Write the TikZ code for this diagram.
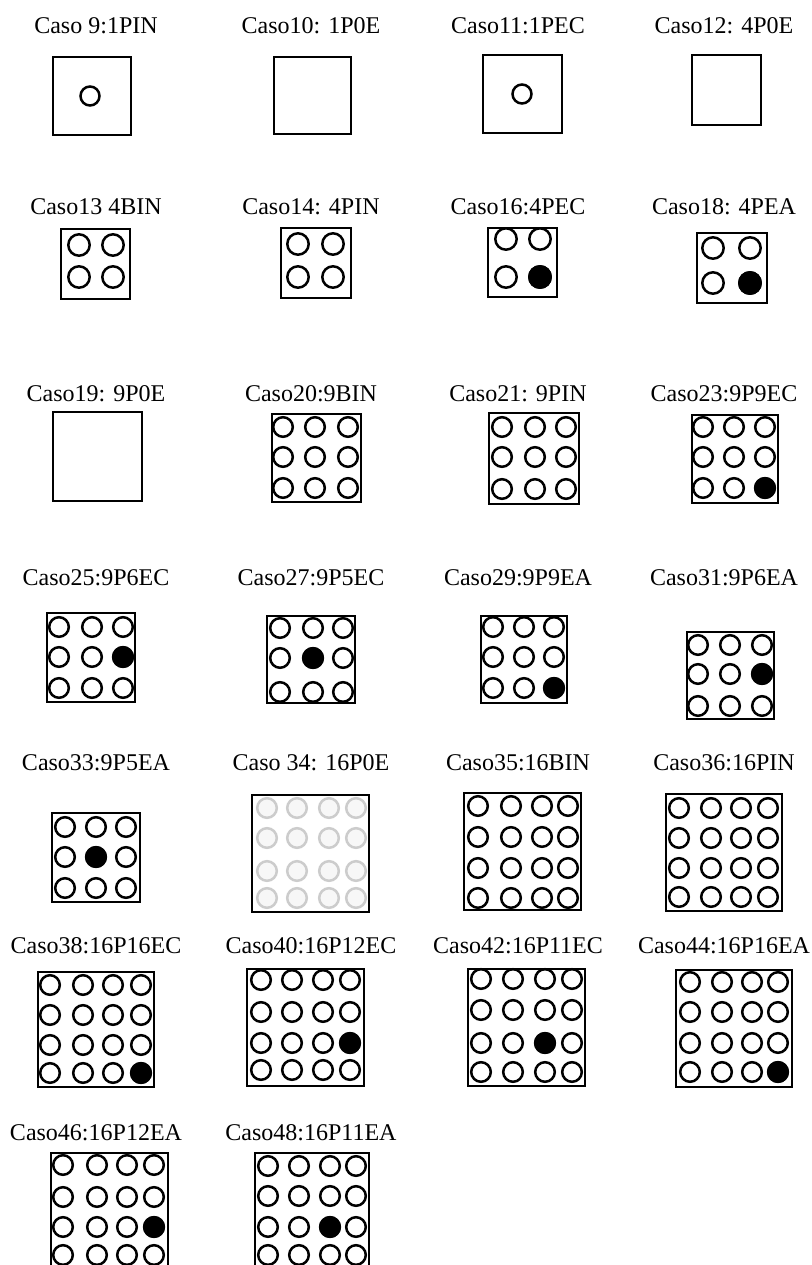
\documentclass[tikz,border=0pt]{standalone}
\usepackage{fontspec}
\setmainfont{Liberation Serif}
\usepackage{tikz}
\definecolor{ghostline}{gray}{0.80}
\definecolor{ghostfill}{gray}{0.97}
\tikzset{
  capt/.style={font=\fontsize{12}{14}\selectfont,anchor=base,inner sep=0pt},
  frame/.style={draw=black,line width=1.35pt},
  hole/.style={draw=black,line width=1.25pt,fill=white},
  pin/.style={draw=black,line width=1.25pt,fill=black},
  ghost/.style={draw=ghostline,line width=1.25pt,fill=ghostfill},
}
\begin{document}
\begin{tikzpicture}[x=0.5pt,y=0.5pt]
  \useasboundingbox[fill=white] (0,0) rectangle (811,-1265);
  \node[capt] (c9) at (96,-33.5) {Caso 9:1PIN};
  \draw[frame] (53,-57) rectangle (131,-135);
  \draw[hole] (90,-96) circle (9.5);
  \node[capt] (c10) at (311,-33.5) {Caso10: 1P0E};
  \draw[frame] (274,-57) rectangle (351,-134);
  \node[capt] (c11) at (518,-33.5) {Caso11:1PEC};
  \draw[frame] (483,-55) rectangle (562,-133);
  \draw[hole] (522,-94) circle (9.5);
  \node[capt] (c12) at (724,-33.5) {Caso12: 4P0E};
  \draw[frame] (692,-55) rectangle (761,-125);

  \node[capt] (c13) at (96,-214) {Caso13 4BIN};
  \draw[frame] (61,-229) rectangle (130,-299);
  \foreach \x in {79,113} \foreach \y in {245,277} \draw[hole] (\x,-\y) circle (10.7);
  \node[capt] (c14) at (311,-214) {Caso14: 4PIN};
  \draw[frame] (281,-228) rectangle (351,-298);
  \foreach \x in {298,333} \foreach \y in {244,277} \draw[hole] (\x,-\y) circle (10.7);
  \node[capt] (c16) at (518,-214) {Caso16:4PEC};
  \draw[frame] (488,-228) rectangle (557,-297);
  \foreach \x in {506,540} \foreach \y in {239,277} \draw[hole] (\x,-\y) circle (10.7);
  \draw[pin] (540,-277) circle (10.7);
  \node[capt] (c18) at (724,-214) {Caso18: 4PEA};
  \draw[frame] (697,-233) rectangle (767,-303);
  \foreach \x in {713,750} \foreach \y in {248,283} \draw[hole] (\x,-\y) circle (10.7);
  \draw[pin] (750,-283) circle (10.7);

  \node[capt] (c19) at (96,-401.5) {Caso19: 9P0E};
  \draw[frame] (53,-412) rectangle (142,-501);
  \node[capt] (c20) at (311,-401.5) {Caso20:9BIN};
  \draw[frame] (272,-414) rectangle (361,-502);
  \foreach \x in {283,315,348} \foreach \y in {427,457,488} \draw[hole] (\x,-\y) circle (9.8);
  \node[capt] (c21) at (518,-401.5) {Caso21: 9PIN};
  \draw[frame] (489,-413) rectangle (579,-504);
  \foreach \x in {502,535,566} \foreach \y in {427,457,489} \draw[hole] (\x,-\y) circle (9.8);
  \node[capt] (c23) at (724,-401.5) {Caso23:9P9EC};
  \draw[frame] (692,-415) rectangle (778,-503);
  \foreach \x in {703,734,765} \foreach \y in {427,457,488} \draw[hole] (\x,-\y) circle (9.8);
  \draw[pin] (765,-488) circle (9.8);

  \node[capt] (c25) at (96,-585) {Caso25:9P6EC};
  \draw[frame] (47,-613) rectangle (135,-702);
  \foreach \x in {59,92,123} \foreach \y in {627,657,688} \draw[hole] (\x,-\y) circle (9.8);
  \draw[pin] (123,-657) circle (9.8);
  \node[capt] (c27) at (311,-585) {Caso27:9P5EC};
  \draw[frame] (267,-616) rectangle (355,-703);
  \foreach \x in {280,313,343} \foreach \y in {628,658,692} \draw[hole] (\x,-\y) circle (9.8);
  \draw[pin] (313,-658) circle (9.8);
  \node[capt] (c29) at (518,-585) {Caso29:9P9EA};
  \draw[frame] (481,-616) rectangle (567,-703);
  \foreach \x in {493,524,554} \foreach \y in {627,657,688} \draw[hole] (\x,-\y) circle (9.8);
  \draw[pin] (554,-688) circle (9.8);
  \node[capt] (c31) at (724,-585) {Caso31:9P6EA};
  \draw[frame] (687,-632) rectangle (774,-719);
  \foreach \x in {698,730,762} \foreach \y in {645,674,706} \draw[hole] (\x,-\y) circle (9.8);
  \draw[pin] (762,-674) circle (9.8);

  \node[capt] (c33) at (96,-770) {Caso33:9P5EA};
  \draw[frame] (52,-813) rectangle (140,-902);
  \foreach \x in {65,96,126} \foreach \y in {827,857,888} \draw[hole] (\x,-\y) circle (9.8);
  \draw[pin] (96,-857) circle (9.8);
  \node[capt] (c34) at (311,-770) {Caso 34: 16P0E};
  \draw[frame] (252,-795) rectangle (369,-912);
  \foreach \x in {267,297,329,356} \foreach \y in {808,838,871,898} \draw[ghost] (\x,-\y) circle (9.8);
  \node[capt] (c35) at (518,-770) {Caso35:16BIN};
  \draw[frame] (464,-793) rectangle (581,-910);
  \foreach \x in {478,511,542,568} \foreach \y in {806,837,868,898} \draw[hole] (\x,-\y) circle (9.8);
  \node[capt] (c36) at (724,-770) {Caso36:16PIN};
  \draw[frame] (666,-794) rectangle (782,-911);
  \foreach \x in {679,711,741,768} \foreach \y in {808,838,868,897} \draw[hole] (\x,-\y) circle (9.8);

  \node[capt] (c38) at (96,-953) {Caso38:16P16EC};
  \draw[frame] (38,-972) rectangle (154,-1087);
  \foreach \x in {50,83,113,141} \foreach \y in {985,1015,1045,1073} \draw[hole] (\x,-\y) circle (9.8);
  \draw[pin] (141,-1073) circle (9.8);
  \node[capt] (c40) at (311,-953) {Caso40:16P12EC};
  \draw[frame] (247,-969) rectangle (364,-1086);
  \foreach \x in {261,292,323,350} \foreach \y in {980,1012,1043,1070} \draw[hole] (\x,-\y) circle (9.8);
  \draw[pin] (350,-1043) circle (9.8);
  \node[capt] (c42) at (518,-953) {Caso42:16P11EC};
  \draw[frame] (468,-969) rectangle (585,-1086);
  \foreach \x in {481,513,545,572} \foreach \y in {979,1010,1043,1072} \draw[hole] (\x,-\y) circle (9.8);
  \draw[pin] (545,-1043) circle (9.8);
  \node[capt] (c44) at (724,-953) {Caso44:16P16EA};
  \draw[frame] (676,-970) rectangle (792,-1087);
  \foreach \x in {690,722,752,778} \foreach \y in {982,1012,1043,1072} \draw[hole] (\x,-\y) circle (9.8);
  \draw[pin] (778,-1072) circle (9.8);

  \node[capt] (c46) at (96,-1140) {Caso46:16P12EA};
  \draw[frame] (51,-1153) rectangle (168,-1270);
  \foreach \x in {63,97,127,154} \foreach \y in {1165,1197,1227,1255} \draw[hole] (\x,-\y) circle (9.8);
  \draw[pin] (154,-1227) circle (9.8);
  \node[capt] (c48) at (311,-1140) {Caso48:16P11EA};
  \draw[frame] (255,-1153) rectangle (369,-1270);
  \foreach \x in {268,299,330,356} \foreach \y in {1166,1196,1227,1255} \draw[hole] (\x,-\y) circle (9.8);
  \draw[pin] (330,-1227) circle (9.8);
\end{tikzpicture}
\end{document}
